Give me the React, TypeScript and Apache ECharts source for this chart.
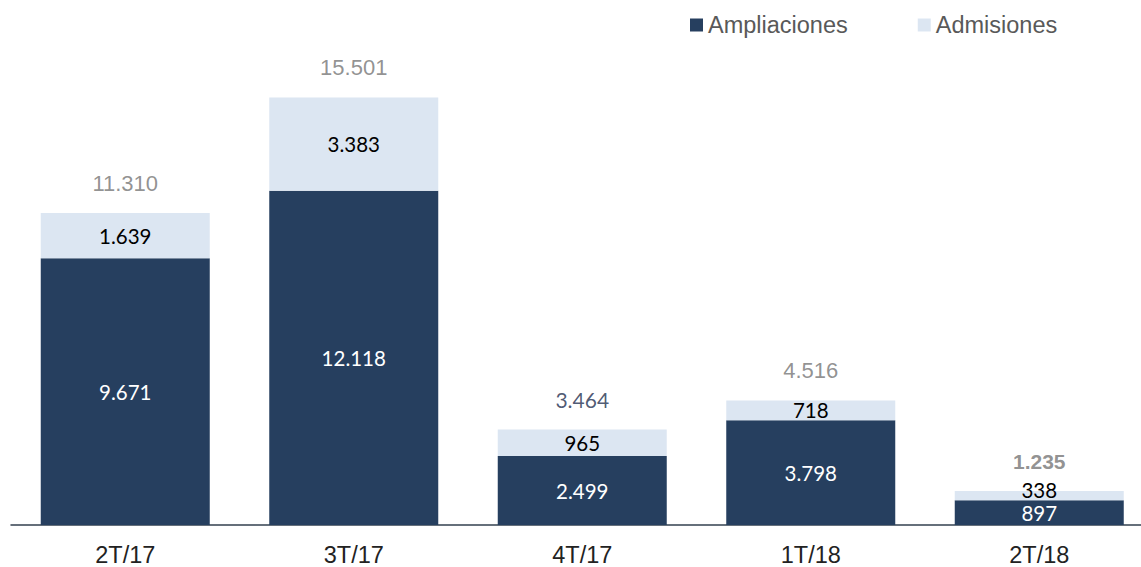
import React, { useEffect, useRef } from "react";
import * as echarts from "echarts";

const categories = ["2T/17", "3T/17", "4T/17", "1T/18", "2T/18"];
const ampliaciones = [9671, 12118, 2499, 3798, 897];
const admisiones = [1639, 3383, 965, 718, 338];
const totals = [11310, 15501, 3464, 4516, 1235];

const fmt = (v: number) => {
  const s = String(Math.round(v));
  return s.replace(/\B(?=(\d{3})+(?!\d))/g, ".");
};

const NAVY = "#263F5F";
const LIGHT = "#DCE6F2";
const ARIAL = "'Liberation Sans', Arial, sans-serif";

export default function App() {
  const ref = useRef<HTMLDivElement>(null);
  useEffect(() => {
    if (!ref.current) return;
    const chart = echarts.init(ref.current, undefined, { renderer: "svg" });
    const totalLabelStyles = [
      { color: "#767676", fontFamily: ARIAL, fontWeight: "normal", fontSize: 22 },
      { color: "#767676", fontFamily: ARIAL, fontWeight: "normal", fontSize: 22 },
      { color: "#1F3050", fontFamily: "Lato", fontWeight: "normal", fontSize: 21 },
      { color: "#767676", fontFamily: ARIAL, fontWeight: "normal", fontSize: 22 },
      { color: "#767676", fontFamily: ARIAL, fontWeight: "bold", fontSize: 21 },
    ];
    chart.setOption({
      animation: false,
      grid: { left: 11, top: 28.5, width: 1142.5, height: 500, containLabel: false },
      legend: {
        data: ["Ampliaciones", "Admisiones"],
        left: 685,
        top: 8,
        itemWidth: 13,
        itemHeight: 13,
        itemGap: 70,
        icon: "rect",
        textStyle: { color: "#595959", fontSize: 23.5, fontFamily: ARIAL, padding: [0, 0, 0, 0] },
      },
      xAxis: {
        type: "category",
        data: categories,
        axisLine: { lineStyle: { color: "#33404F", width: 1.5 } },
        axisTick: { show: false },
        axisLabel: { color: "#222", fontSize: 23.5, fontFamily: ARIAL, margin: 18 },
      },
      yAxis: {
        type: "value",
        min: 0,
        max: 18000,
        show: false,
        splitLine: { show: false },
      },
      series: [
        {
          name: "Ampliaciones",
          type: "bar",
          stack: "s",
          barWidth: 169,
          data: ampliaciones,
          itemStyle: { color: NAVY },
          label: {
            show: true,
            position: "inside",
            color: "#fff",
            fontSize: 20.5,
            fontFamily: "Lato",
            formatter: (p: any) => fmt(p.value),
          },
        },
        {
          name: "Admisiones",
          type: "bar",
          stack: "s",
          barWidth: 169,
          data: admisiones.map((v, i) =>
            i === admisiones.length - 1 ? { value: v, label: { offset: [0, -6] } } : v
          ),
          itemStyle: { color: LIGHT },
          label: {
            show: true,
            position: "inside",
            color: "#000",
            fontSize: 20.5,
            fontFamily: "Lato",
            formatter: (p: any) => fmt(p.value),
          },
        },
        {
          name: "Total",
          type: "scatter",
          symbolSize: 0,
          silent: true,
          data: totals.map((v, i) => ({ value: v, label: totalLabelStyles[i] })),
          label: {
            show: true,
            position: "top",
            distance: 19,
            formatter: (p: any) => fmt(p.value),
          },
        },
      ],
    });
    return () => chart.dispose();
  }, []);
  return (
    <div
      style={{ position: "fixed", left: 0, top: 0, width: 1141, height: 567, overflow: "hidden", background: "#fff" }}
    >
      <div ref={ref} style={{ width: 1170, height: 567 }} />
    </div>
  );
}
